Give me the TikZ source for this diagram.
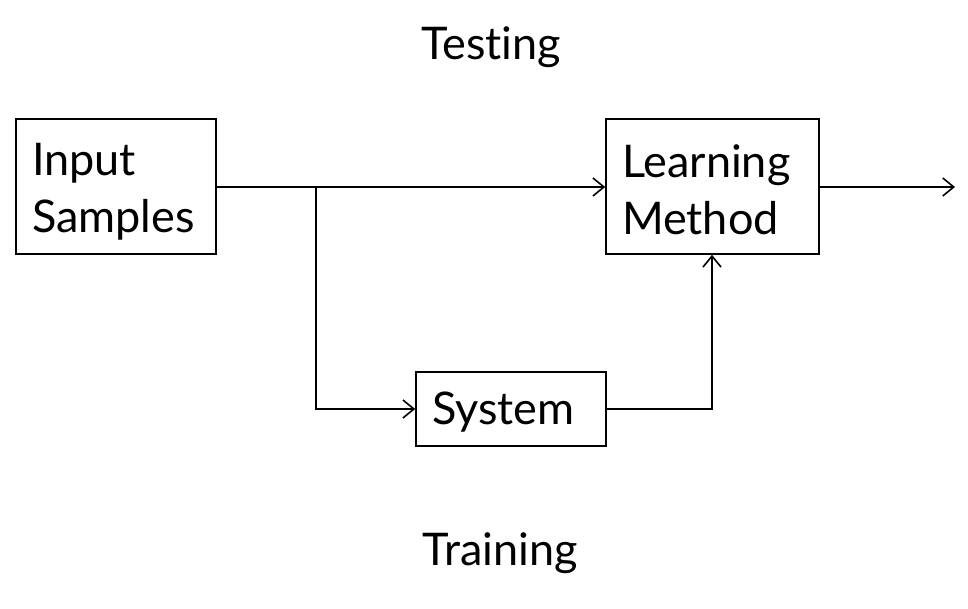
\documentclass[tikz,border=0pt]{standalone}
\usepackage{fontspec}
\setmainfont{Lato}[Ligatures={NoCommon}]
\usetikzlibrary{arrows.meta}
\newcommand{\lowerby}[2]{\raisebox{-#1}[\height][\depth]{#2}}
\begin{document}
\begin{tikzpicture}[x=1pt,y=1pt,
  every node/.style={font=\fontsize{45}{57}\selectfont},
  box/.style={draw,line width=1.6pt,inner xsep=16pt,inner ysep=0pt,align=left,anchor=center},
  conn/.style={line width=1.6pt},
  arr/.style={conn,-{Straight Barb[length=11pt,width=18pt,line width=1.6pt]}}]
\useasboundingbox (0,0) rectangle (968,609);
\node[box,text width=168pt,minimum height=135pt] (inp) at (116,422.5) {\lowerby{5pt}{\parbox{168pt}{Input\\Samples}}};
\node[box,text width=181pt,minimum height=135pt] (lm) at (712.5,422.5) {\lowerby{3pt}{\parbox{181pt}{Learning\\Method}}};
\node[box,text width=158pt,minimum height=74pt] (sys) at (511,200) {\lowerby{3pt}{System}};
\node (test) at (491,562) {Testing};
\node (train) at (500,56) {Training};
\coordinate (br) at (316,422);
\coordinate (out) at (955,422);
\draw[arr] (inp.east |- br) -- (lm.west |- br);
\draw[arr] (br) |- (sys.west);
\draw[arr] (sys.east) -| (lm.south -| 712,0);
\draw[arr] (lm.east |- out) -- (out);
\end{tikzpicture}
\end{document}
